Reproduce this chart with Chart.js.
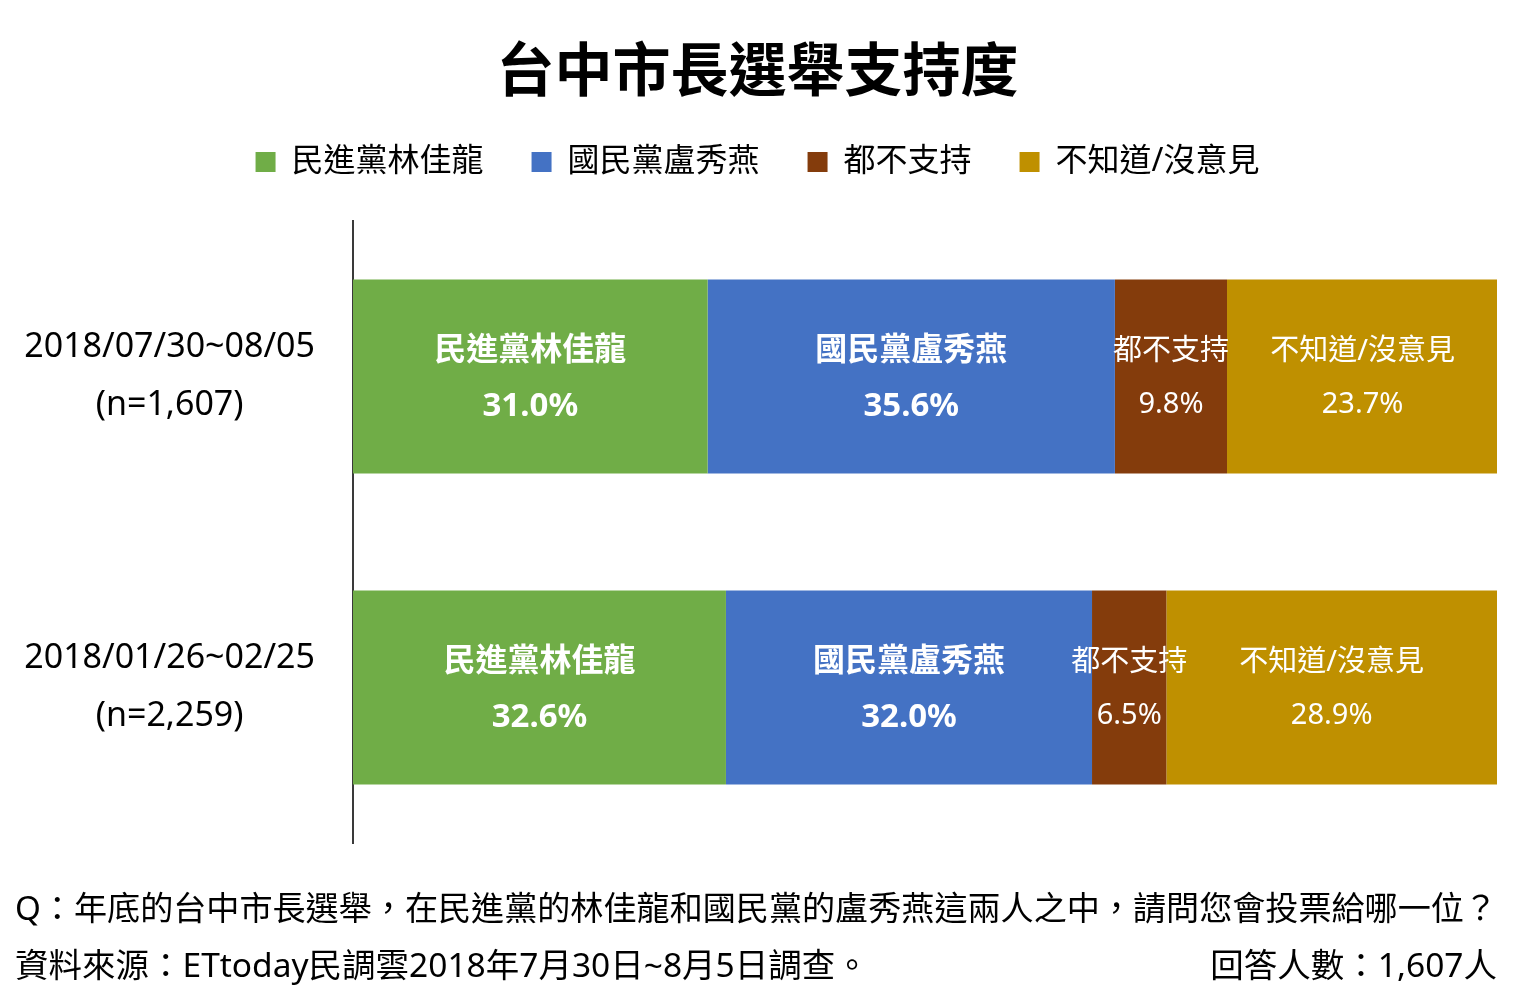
<!DOCTYPE html>
<html>
<head>
<meta charset="utf-8">
<script src="https://cdn.jsdelivr.net/npm/chart.js@4/dist/chart.umd.min.js"></script>
<style>
  html, body { margin: 0; padding: 0; background: #fff; }
  #wrap { width: 1524px; height: 995px; }
</style>
</head>
<body>
<div id="wrap"><canvas id="supportChart" width="1524" height="995"></canvas></div>
<script>
// data
const periods = [
    ['2018/07/30~08/05', '(n=1,607)'],
    ['2018/01/26~02/25', '(n=2,259)']
];
const seriesNames = ['民進黨林佳龍', '國民黨盧秀燕', '都不支持', '不知道/沒意見'];
const linChiaLung = [31.0, 32.6];
const luShiowYen = [35.6, 32.0];
const supportNeither = [9.8, 6.5];
const noOpinion = [23.7, 28.9];

const colors = ['#70AD47', '#4472C4', '#843C0C', '#BF9000'];
const fontFamily = '"Noto Sans", "Noto Sans CJK TC", sans-serif';

Chart.defaults.color = '#000';
Chart.defaults.font.family = fontFamily;

// labels inside each bar segment: name + percent
const barLabels = {
    id: 'barLabels',
    afterDatasetsDraw(chart) {
        const ctx = chart.ctx;
        ctx.save();
        ctx.textAlign = 'center';
        ctx.textBaseline = 'middle';
        chart.data.datasets.forEach((ds, di) => {
            const bold = di < 2;
            chart.getDatasetMeta(di).data.forEach((bar, i) => {
                const p = bar.getProps(['x', 'base', 'y'], true);
                const cx = (p.x + p.base) / 2;
                ctx.fillStyle = '#fff';
                ctx.font = (bold ? 'bold 32px ' : '29px ') + fontFamily;
                ctx.fillText(ds.label, cx, p.y - (bold ? 26 : 25));
                ctx.font = (bold ? 'bold 33px ' : '29px ') + fontFamily;
                ctx.fillText(ds.data[i].toFixed(1) + '%', cx, p.y + (bold ? 30 : 28));
            });
        });
        ctx.restore();
    }
};

// question and source notes under the chart
const footNotes = {
    id: 'footNotes',
    afterDraw(chart) {
        const ctx = chart.ctx;
        const area = chart.chartArea;
        ctx.save();
        ctx.fillStyle = '#000';
        ctx.textBaseline = 'middle';
        ctx.font = '33.5px ' + fontFamily;
        ctx.textAlign = 'left';
        ctx.fillText('Q：年底的台中市長選舉，在民進黨的林佳龍和國民黨的盧秀燕這兩人之中，請問您會投票給哪一位？', 15, area.bottom + 67, area.right - 15);
        ctx.fillText('資料來源：ETtoday民調雲2018年7月30日~8月5日調查。', 15, area.bottom + 124);
        ctx.textAlign = 'right';
        ctx.fillText('回答人數：1,607人', area.right, area.bottom + 124);
        ctx.restore();
    }
};

const supportChart = document.getElementById('supportChart');

new Chart(supportChart, {
    type: 'bar',
    data: {
        labels: periods,
        datasets: [
            { label: seriesNames[0], data: linChiaLung, backgroundColor: colors[0] },
            { label: seriesNames[1], data: luShiowYen, backgroundColor: colors[1] },
            { label: seriesNames[2], data: supportNeither, backgroundColor: colors[2] },
            { label: seriesNames[3], data: noOpinion, backgroundColor: colors[3] }
        ]
    },
    options: {
        indexAxis: 'y',
        responsive: false,
        animation: false,
        datasets: {
            bar: {
                categoryPercentage: 1,
                barPercentage: 0.623,
                borderWidth: 0
            }
        },
        layout: {
            padding: { top: 0, left: 18, right: 27, bottom: 152 }
        },
        scales: {
            x: {
                stacked: true,
                position: 'top',
                min: 0,
                max: 100,
                grid: { display: false },
                border: { display: false },
                ticks: { display: false },
                afterFit: (scale) => { scale.height = 33; }
            },
            y: {
                stacked: true,
                grid: { display: false, drawTicks: false },
                border: { display: true, color: '#3a3a3a', width: 2 },
                ticks: {
                    crossAlign: 'center',
                    padding: 38,
                    color: '#000',
                    font: { size: 34, lineHeight: 1.7 }
                },
                afterFit: (scale) => { scale.width = 335; }
            }
        },
        plugins: {
            tooltip: { enabled: false },
            title: {
                display: true,
                text: '台中市長選舉支持度',
                color: '#000',
                font: { size: 58, weight: 'bold', lineHeight: 1, family: '"Noto Sans CJK TC", sans-serif' },
                padding: { top: 40, bottom: 0 }
            },
            legend: {
                onClick: null,
                labels: {
                    boxWidth: 20,
                    boxHeight: 20,
                    padding: 48,
                    color: '#000',
                    font: { size: 32 }
                }
            }
        }
    },
    plugins: [barLabels, footNotes]
});
</script>
</body>
</html>
